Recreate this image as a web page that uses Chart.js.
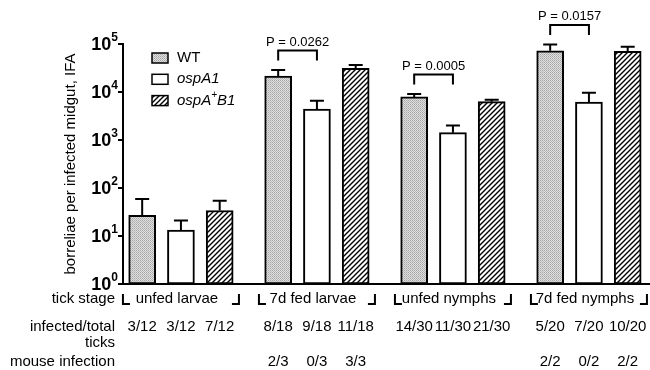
<!DOCTYPE html>
<html lang="en">
<head>
<meta charset="UTF-8">
<title>Borreliae per infected midgut</title>
<script src="https://cdn.jsdelivr.net/npm/chart.js"></script>
<style>
  body { margin: 0; background: #fff; }
</style>
</head>
<body>
<canvas id="chart" width="650" height="370"></canvas>
<script>
// data (log scale)
const groups = ['unfed larvae', '7d fed larvae', 'unfed nymphs', '7d fed nymphs'];
const strains = ['WT', 'ospA1', 'ospA+B1'];

const wtMean = [27, 21500, 7900, 72000];
const wtUpper = [59, 28700, 9100, 98000];
const ospA1Mean = [13.3, 4400, 1420, 6200];
const ospA1Upper = [21, 6600, 2000, 9700];
const ospAB1Mean = [34, 31000, 6300, 70500];
const ospAB1Upper = [54, 36500, 6900, 88000];

const yExponents = [0, 1, 2, 3, 4, 5];

const pGroups = [1, 2, 3];
const pLabels = ['P = 0.0262', 'P = 0.0005', 'P = 0.0157'];

const infectedWT = ['3/12', '8/18', '14/30', '5/20'];
const infectedA1 = ['3/12', '9/18', '11/30', '7/20'];
const infectedAB1 = ['7/12', '11/18', '21/30', '10/20'];

const mouseWT = ['', '2/3', '', '2/2'];
const mouseA1 = ['', '0/3', '', '0/2'];
const mouseAB1 = ['', '3/3', '', '2/2'];

const FONT = '"Liberation Sans", Arial, sans-serif';
const barOffset = 0.285;

function stipple() {
    const c = document.createElement('canvas');
    c.width = 2; c.height = 2;
    const g = c.getContext('2d');
    g.fillStyle = '#e0e0e0'; g.fillRect(0, 0, 2, 2);
    g.fillStyle = '#a4a4a4'; g.fillRect(0, 0, 1, 1);
    g.fillStyle = '#b8b8b8'; g.fillRect(1, 1, 1, 1);
    return g.createPattern(c, 'repeat');
}

function hatch() {
    const c = document.createElement('canvas');
    c.width = 5; c.height = 5;
    const g = c.getContext('2d');
    g.fillStyle = '#fff'; g.fillRect(0, 0, 5, 5);
    g.strokeStyle = '#000'; g.lineWidth = 1.4;
    g.beginPath();
    g.moveTo(-1, 6); g.lineTo(6, -1);
    g.moveTo(-1, 1); g.lineTo(1, -1);
    g.moveTo(4, 6); g.lineTo(6, 4);
    g.stroke();
    return g.createPattern(c, 'repeat');
}

const fills = [stipple(), '#ffffff', hatch()];
const means = [wtMean, ospA1Mean, ospAB1Mean];
const uppers = [wtUpper, ospA1Upper, ospAB1Upper];
const infected = [infectedWT, infectedA1, infectedAB1];
const mouse = [mouseWT, mouseA1, mouseAB1];

function drawStrainLabel(ctx, label, x, y) {
    // italic for mutants, superscript "+"
    if (label === 'WT') {
        ctx.font = '15px ' + FONT;
        ctx.fillText(label, x, y);
        return;
    }
    ctx.font = 'italic 15px ' + FONT;
    const parts = label.split('+');
    ctx.fillText(parts[0], x, y);
    if (parts.length > 1) {
        let cx = x + ctx.measureText(parts[0]).width;
        ctx.font = 'italic 10px ' + FONT;
        ctx.fillText('+', cx, y - 5);
        cx += ctx.measureText('+').width;
        ctx.font = 'italic 15px ' + FONT;
        ctx.fillText(parts[1], cx, y);
    }
}

const extras = {
    id: 'extras',
    afterDatasetsDraw(chart) {
        const ctx = chart.ctx;
        const y = chart.scales.y;
        ctx.save();
        ctx.strokeStyle = '#000';
        ctx.lineWidth = 2;
        uppers.forEach((arr, d) => {
            chart.getDatasetMeta(d).data.forEach((bar, i) => {
                const top = y.getPixelForValue(arr[i]);
                ctx.beginPath();
                ctx.moveTo(bar.x, bar.y);
                ctx.lineTo(bar.x, top);
                ctx.moveTo(bar.x - 7, top);
                ctx.lineTo(bar.x + 7, top);
                ctx.stroke();
            });
        });
        ctx.restore();
    },
    afterDraw(chart) {
        const ctx = chart.ctx;
        const x = chart.scales.x;
        const y = chart.scales.y;
        ctx.save();
        ctx.fillStyle = '#000';
        ctx.strokeStyle = '#000';

        // y tick labels 10^n
        ctx.textBaseline = 'middle';
        yExponents.forEach(e => {
            const py = y.getPixelForValue(Math.pow(10, e));
            ctx.font = 'bold 12px ' + FONT;
            const ew = ctx.measureText(String(e)).width;
            ctx.textAlign = 'left';
            ctx.fillText(String(e), 118 - ew, py - 6);
            ctx.font = 'bold 18px ' + FONT;
            ctx.textAlign = 'right';
            ctx.fillText('10', 118 - ew, py + 1);
        });

        // legend
        ctx.textAlign = 'left';
        ctx.lineWidth = 1.5;
        strains.forEach((s, k) => {
            const cy = 58 + k * 21.3;
            ctx.fillStyle = fills[k];
            ctx.fillRect(152, cy - 5, 16, 10);
            ctx.strokeRect(152, cy - 5, 16, 10);
            ctx.fillStyle = '#000';
            drawStrainLabel(ctx, s, 177, cy);
        });

        // p-value brackets
        ctx.lineWidth = 2;
        ctx.font = '13px ' + FONT;
        ctx.textAlign = 'center';
        pGroups.forEach((g, k) => {
            const a = chart.getDatasetMeta(0).data[g];
            const b = chart.getDatasetMeta(1).data[g];
            const top = y.getPixelForValue(Math.max(wtUpper[g], ospA1Upper[g])) - 19.5;
            ctx.beginPath();
            ctx.moveTo(a.x, top + 10);
            ctx.lineTo(a.x, top);
            ctx.lineTo(b.x, top);
            ctx.lineTo(b.x, top + 10);
            ctx.stroke();
            ctx.fillText(pLabels[k], (a.x + b.x) / 2, top - 8);
        });

        // rows below the axis
        ctx.font = '15px ' + FONT;
        ctx.textAlign = 'right';
        ctx.fillText('tick stage', 115, 299);
        ctx.fillText('infected/total', 115, 327);
        ctx.fillText('ticks', 115, 343);
        ctx.fillText('mouse infection', 115, 362);

        ctx.lineWidth = 2;
        groups.forEach((name, i) => {
            const gx = x.getPixelForValue(i);
            ctx.beginPath();
            ctx.moveTo(gx - 58, 294);
            ctx.lineTo(gx - 58, 304);
            ctx.lineTo(gx - 51, 304);
            ctx.moveTo(gx + 58, 294);
            ctx.lineTo(gx + 58, 304);
            ctx.lineTo(gx + 51, 304);
            ctx.stroke();
            ctx.textAlign = 'center';
            ctx.fillText(name, gx - 4, 299);
        });

        ctx.textAlign = 'center';
        infected.forEach((arr, d) => {
            chart.getDatasetMeta(d).data.forEach((bar, i) => {
                ctx.fillText(arr[i], bar.x, 327);
                if (mouse[d][i]) ctx.fillText(mouse[d][i], bar.x, 362);
            });
        });
        ctx.restore();
    }
};

new Chart(document.getElementById('chart'), {
    type: 'bar',
    data: {
        datasets: strains.map((s, d) => ({
            label: s,
            data: means[d].map((v, i) => ({ x: i + (d - 1) * barOffset, y: v })),
            backgroundColor: fills[d],
            borderColor: '#000',
            borderWidth: 2,
            borderSkipped: false,
            grouped: false,
            barThickness: 27
        }))
    },
    options: {
        responsive: false,
        animation: false,
        layout: { padding: { left: 58, top: 44, right: 0, bottom: 0 } },
        plugins: { legend: { display: false }, tooltip: { enabled: false } },
        scales: {
            x: {
                type: 'linear',
                offset: false,
                min: -0.426,
                max: 3.449,
                ticks: { display: false },
                grid: { display: false, offset: false },
                border: { display: true, color: '#000', width: 2 },
                afterFit: s => { s.height = 86; }
            },
            y: {
                type: 'logarithmic',
                min: 1,
                max: 100000,
                afterBuildTicks: s => {
                    s.ticks = yExponents.map(e => ({ value: Math.pow(10, e) }));
                },
                ticks: { display: false },
                grid: { drawOnChartArea: false, drawTicks: true, tickLength: 5, color: '#000', lineWidth: 2 },
                border: { display: true, color: '#000', width: 2 },
                title: {
                    display: true,
                    text: 'borreliae per infected midgut, IFA',
                    color: '#000',
                    font: { family: FONT, size: 15 }
                },
                afterFit: s => { s.width = 65; }
            }
        }
    },
    plugins: [extras]
});
</script>
</body>
</html>
